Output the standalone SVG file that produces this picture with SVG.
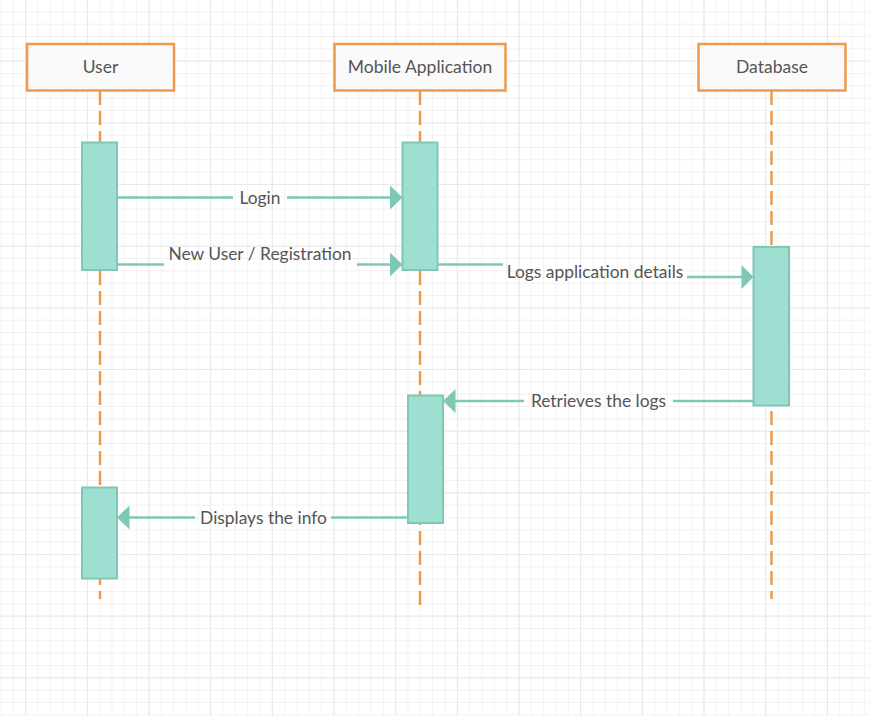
<svg xmlns="http://www.w3.org/2000/svg" width="870" height="716" viewBox="0 0 870 716">
<style>
.hdr{fill:#fafafa;stroke:#ee9a4e;stroke-width:2.5}
.life{stroke:#ee9a4e;stroke-width:2.5;stroke-dasharray:14 6;fill:none}
.act{fill:#9fdfd1;stroke:#7fc8b6;stroke-width:2}
.msg{stroke:#7fc8b6;stroke-width:2.5;fill:none}
.head{fill:#7fc8b6}
.ntxt{font-family:Lato,"Liberation Sans",sans-serif;font-size:17.5px;fill:#555;text-anchor:middle}
.ltxt{font-family:Lato,"Liberation Sans",sans-serif;font-size:17.4px;fill:#555;text-anchor:middle}
</style>
<defs>
<pattern id="minor" patternUnits="userSpaceOnUse" x="0.5" y="-1" width="12.333" height="12.333">
<path d="M0.5 0V12.333M0 0.5H12.333" stroke="#f1f1f1" stroke-width="1" fill="none"/>
</pattern>
<pattern id="major" patternUnits="userSpaceOnUse" x="25.2" y="-1" width="61.667" height="61.667">
<path d="M0.5 0V61.667M0 0.5H61.667" stroke="#e9e9e9" stroke-width="1" fill="none"/>
</pattern>
</defs>
<rect width="870" height="716" fill="#ffffff"/>
<rect width="870" height="716" fill="url(#minor)"/>
<rect width="870" height="716" fill="url(#major)"/>

<g id="user">
<rect class="hdr" x="27" y="44" width="147" height="46.5"/>
<text class="ntxt" x="100.5" y="73">User</text>
<line class="life" x1="100" y1="91" x2="100" y2="599"/>
<rect class="act" x="82" y="142.5" width="35" height="127.5"/>
<rect class="act" x="82" y="487.5" width="35" height="91"/>
</g>

<g id="mobile">
<rect class="hdr" x="334.5" y="44" width="171" height="46.5"/>
<text class="ntxt" x="420" y="73">Mobile Application</text>
<line class="life" x1="420" y1="91" x2="420" y2="606"/>
<rect class="act" x="402.5" y="142.5" width="35" height="127.5"/>
<rect class="act" x="408" y="395.5" width="35" height="127.5"/>
</g>

<g id="database">
<rect class="hdr" x="698.5" y="44" width="147" height="46.5"/>
<text class="ntxt" x="772" y="73">Database</text>
<line class="life" x1="771.5" y1="91" x2="771.5" y2="599"/>
<rect class="act" x="753.5" y="247" width="35.5" height="158.5"/>
</g>

<g id="connectors">
<g id="m-login">
<path class="msg" d="M117 197.5H233M287 197.5H392"/>
<polygon class="head" points="390,185.5 402.5,197.5 390,209.5"/>
<text class="ltxt" x="260" y="204">Login</text>
</g>
<g id="m-register">
<path class="msg" d="M117 264.5H164M357 264.5H392"/>
<polygon class="head" points="390,252.5 402.5,264.5 390,276.5"/>
<text class="ltxt" x="260" y="260">New User / Registration</text>
</g>
<g id="m-logs">
<path class="msg" d="M437.5 264.5H503M687 277H744"/>
<polygon class="head" points="741.5,265 753.5,277 741.5,289"/>
<text class="ltxt" x="595" y="277.5">Logs application details</text>
</g>
<g id="m-retrieve">
<path class="msg" d="M753.5 401H673M524 401H453"/>
<polygon class="head" points="455.5,389 443,401 455.5,413"/>
<text class="ltxt" x="598.5" y="407">Retrieves the logs</text>
</g>
<g id="m-display">
<path class="msg" d="M408 517.5H331M195 517.5H127"/>
<polygon class="head" points="129.5,505.5 117,517.5 129.5,529.5"/>
<text class="ltxt" x="263.5" y="524">Displays the info</text>
</g>
</g>
</svg>
